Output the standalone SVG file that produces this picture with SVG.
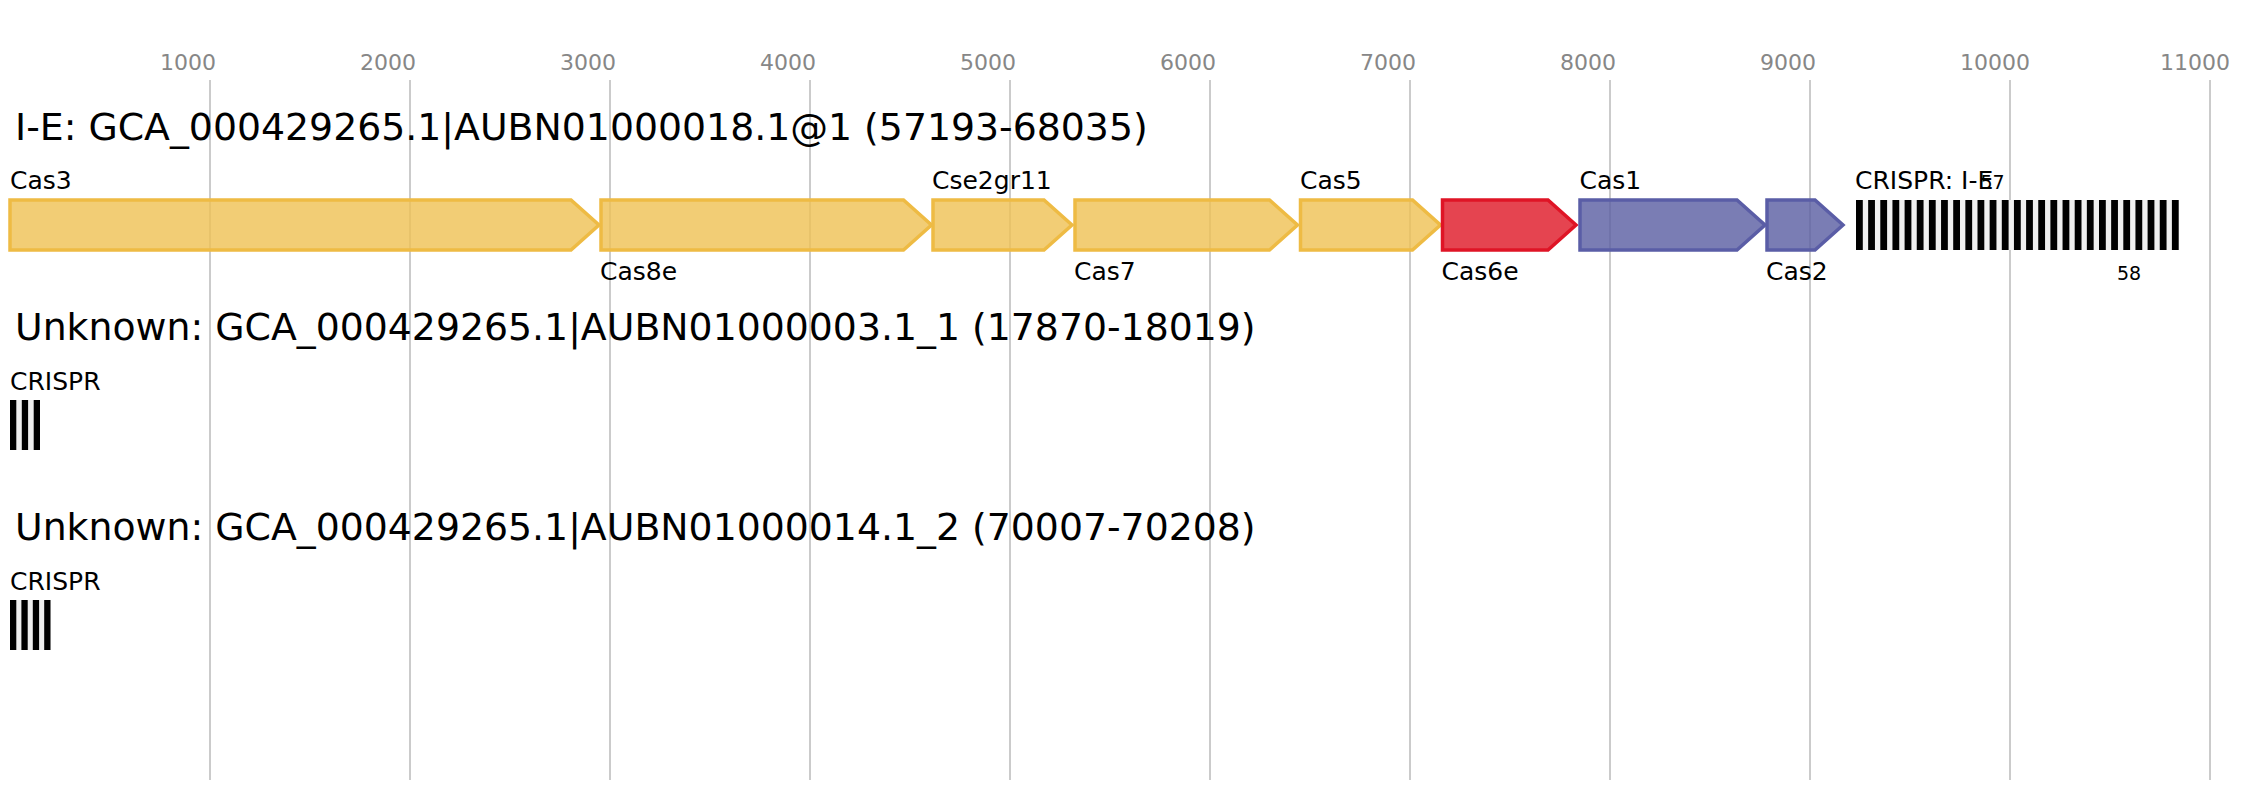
<svg xmlns="http://www.w3.org/2000/svg" width="2268" height="800" viewBox="0 0 2268 800">
<style>
text{font-family:"DejaVu Sans","Liberation Sans",sans-serif;fill:#000}
.tick{font-size:22px;fill:#878787}
.title{font-size:37.8px}
.lbl{font-size:25px}
.num{font-size:19px}
#grid line{stroke:#bebebe;stroke-width:1.6}
.g{stroke-width:3.5;stroke-linejoin:miter;fill-opacity:0.8}
.yl{fill:#EFC052;stroke:#EEBB44}
.rd{fill:#DF1524;stroke:#DF1426}
.bl{fill:#595CA1;stroke:#5A5DA6}
.sp{fill:#efefef}
.rp{fill:#000}
</style>
<rect width="2268" height="800" fill="#fff"/>
<g id="grid">
<line x1="210" y1="80" x2="210" y2="780"/>
<line x1="410" y1="80" x2="410" y2="780"/>
<line x1="610" y1="80" x2="610" y2="780"/>
<line x1="810" y1="80" x2="810" y2="780"/>
<line x1="1010" y1="80" x2="1010" y2="780"/>
<line x1="1210" y1="80" x2="1210" y2="780"/>
<line x1="1410" y1="80" x2="1410" y2="780"/>
<line x1="1610" y1="80" x2="1610" y2="780"/>
<line x1="1810" y1="80" x2="1810" y2="780"/>
<line x1="2010" y1="80" x2="2010" y2="780"/>
<line x1="2210" y1="80" x2="2210" y2="780"/>
</g>
<g id="ticks">
<text class="tick" x="160" y="70">1000</text>
<text class="tick" x="360" y="70">2000</text>
<text class="tick" x="560" y="70">3000</text>
<text class="tick" x="760" y="70">4000</text>
<text class="tick" x="960" y="70">5000</text>
<text class="tick" x="1160" y="70">6000</text>
<text class="tick" x="1360" y="70">7000</text>
<text class="tick" x="1560" y="70">8000</text>
<text class="tick" x="1760" y="70">9000</text>
<text class="tick" x="1960" y="70">10000</text>
<text class="tick" x="2160" y="70">11000</text>
</g>
<g id="connectors"></g>
<g id="row1">
<text class="title" x="15" y="140">I-E: GCA_000429265.1|AUBN01000018.1@1 (57193-68035)</text>
<g id="cas3"><polygon class="g yl" points="10,200 571,200 599,225 571,250 10,250"/><text class="lbl" x="10" y="189">Cas3</text></g>
<g id="cas8e"><polygon class="g yl" points="601,200 903.5,200 931.5,225 903.5,250 601,250"/><text class="lbl" x="600" y="280">Cas8e</text></g>
<g id="cse2gr11"><polygon class="g yl" points="933,200 1044,200 1072,225 1044,250 933,250"/><text class="lbl" x="932" y="189">Cse2gr11</text></g>
<g id="cas7"><polygon class="g yl" points="1075,200 1269.5,200 1297.5,225 1269.5,250 1075,250"/><text class="lbl" x="1074" y="280">Cas7</text></g>
<g id="cas5"><polygon class="g yl" points="1300.5,200 1412.5,200 1440.5,225 1412.5,250 1300.5,250"/><text class="lbl" x="1300" y="189">Cas5</text></g>
<g id="cas6e"><polygon class="g rd" points="1442.5,200 1548,200 1576,225 1548,250 1442.5,250"/><text class="lbl" x="1441.5" y="280">Cas6e</text></g>
<g id="cas1"><polygon class="g bl" points="1580,200 1737,200 1765,225 1737,250 1580,250"/><text class="lbl" x="1579.5" y="189">Cas1</text></g>
<g id="cas2"><polygon class="g bl" points="1767,200 1815,200 1843,225 1815,250 1767,250"/><text class="lbl" x="1766" y="280">Cas2</text></g>
<g id="crispr1">
<rect class="sp" x="1856" y="200" width="323" height="50"/>
<rect class="rp" x="1856" y="200" width="6.8" height="50"/>
<rect class="rp" x="1868.15" y="200" width="6.8" height="50"/>
<rect class="rp" x="1880.3" y="200" width="6.8" height="50"/>
<rect class="rp" x="1892.45" y="200" width="6.8" height="50"/>
<rect class="rp" x="1904.6" y="200" width="6.8" height="50"/>
<rect class="rp" x="1916.75" y="200" width="6.8" height="50"/>
<rect class="rp" x="1928.9" y="200" width="6.8" height="50"/>
<rect class="rp" x="1941.05" y="200" width="6.8" height="50"/>
<rect class="rp" x="1953.2" y="200" width="6.8" height="50"/>
<rect class="rp" x="1965.35" y="200" width="6.8" height="50"/>
<rect class="rp" x="1977.5" y="200" width="6.8" height="50"/>
<rect class="rp" x="1989.65" y="200" width="6.8" height="50"/>
<rect class="rp" x="2001.8" y="200" width="6.8" height="50"/>
<rect class="rp" x="2013.95" y="200" width="6.8" height="50"/>
<rect class="rp" x="2026.1" y="200" width="6.8" height="50"/>
<rect class="rp" x="2038.25" y="200" width="6.8" height="50"/>
<rect class="rp" x="2050.4" y="200" width="6.8" height="50"/>
<rect class="rp" x="2062.55" y="200" width="6.8" height="50"/>
<rect class="rp" x="2074.7" y="200" width="6.8" height="50"/>
<rect class="rp" x="2086.85" y="200" width="6.8" height="50"/>
<rect class="rp" x="2099" y="200" width="6.8" height="50"/>
<rect class="rp" x="2111.15" y="200" width="6.8" height="50"/>
<rect class="rp" x="2123.3" y="200" width="6.8" height="50"/>
<rect class="rp" x="2135.45" y="200" width="6.8" height="50"/>
<rect class="rp" x="2147.6" y="200" width="6.8" height="50"/>
<rect class="rp" x="2159.75" y="200" width="6.8" height="50"/>
<rect class="rp" x="2171.9" y="200" width="6.8" height="50"/>
<text class="lbl" x="1855" y="189">CRISPR: I-E</text>
<text class="num" x="1980.5" y="189">57</text>
<text class="num" x="2117" y="280">58</text>
</g>
</g>
<g id="row2">
<text class="title" x="15" y="340">Unknown: GCA_000429265.1|AUBN01000003.1_1 (17870-18019)</text>
<g id="crispr2">
<rect class="sp" x="10" y="400" width="30" height="50"/>
<rect class="rp" x="10" y="400" width="6.3" height="50"/>
<rect class="rp" x="21.8" y="400" width="6.3" height="50"/>
<rect class="rp" x="33.7" y="400" width="6.3" height="50"/>
<text class="lbl" x="10" y="390">CRISPR</text>
</g>
</g>
<g id="row3">
<text class="title" x="15" y="540">Unknown: GCA_000429265.1|AUBN01000014.1_2 (70007-70208)</text>
<g id="crispr3">
<rect class="sp" x="10" y="600" width="40.5" height="50"/>
<rect class="rp" x="10" y="600" width="6.3" height="50"/>
<rect class="rp" x="21.4" y="600" width="6.3" height="50"/>
<rect class="rp" x="32.8" y="600" width="6.3" height="50"/>
<rect class="rp" x="44.2" y="600" width="6.3" height="50"/>
<text class="lbl" x="10" y="590">CRISPR</text>
</g>
</g>
</svg>
